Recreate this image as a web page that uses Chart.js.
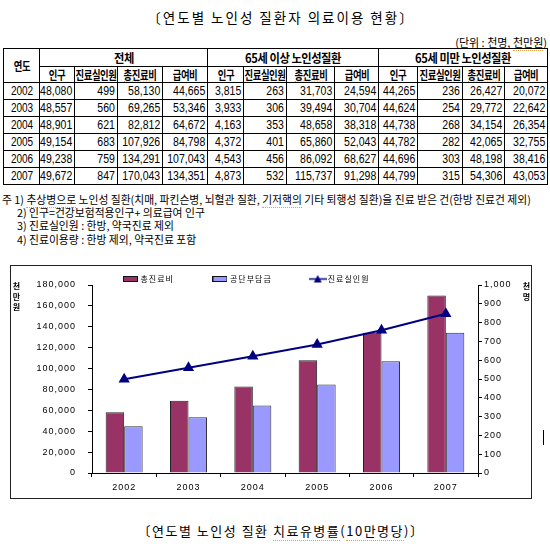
<!DOCTYPE html>
<html>
<head>
<meta charset="utf-8">
<script src="https://cdn.jsdelivr.net/npm/chart.js@4.4.0/dist/chart.umd.min.js"></script>
<style>
html,body{margin:0;padding:0;background:#fff}
body{width:550px;height:546px;position:relative;overflow:hidden;font-family:"Noto Sans CJK KR","Noto Sans",sans-serif;color:#000}
.abs{position:absolute;white-space:nowrap}
#title{left:0;width:562px;top:7px;text-align:center;font-size:13.5px;letter-spacing:2px;line-height:20px}
#unit{right:3px;top:34px;font-size:11px;line-height:16px}
#tbl{position:absolute;left:3px;top:48px;width:544px;border-collapse:collapse;table-layout:fixed}
#tbl td{border:1px solid #000;padding:0 1px;white-space:nowrap;overflow:hidden;position:relative}
#tbl tr.h1 td{height:17px}
#tbl tr.h2 td{height:15px}
#tbl tr.d td{height:16px}
#tbl td.hd span{position:absolute;left:50%;top:50%;transform:translate(-50%,-50%) scaleX(.78);font-weight:bold;font-size:12px;line-height:12px;letter-spacing:-0.5px}
#tbl td.grp span{transform:translate(-50%,-50%) scaleX(.9);font-size:12.5px}
#tbl td.yr span{position:absolute;left:50%;top:50%;transform:translate(-50%,-50%) scaleX(.8);font-family:"Liberation Sans",sans-serif;font-size:12.5px;line-height:13px}
#tbl td.n span{position:absolute;right:2px;top:50%;transform:translateY(-50%) scaleX(.84);transform-origin:right center;font-family:"Liberation Sans",sans-serif;font-size:12.5px;line-height:13px}
.sq{border-bottom:1px dotted #e8a040}
.note{left:0;font-size:10.8px;line-height:13px}
#box{position:absolute;left:10px;top:265px;width:520px;height:232px;border:1px solid #222}
#cv{position:absolute;left:0;top:0}
.vl{position:absolute;writing-mode:vertical-lr;text-orientation:upright;font-size:8px;font-weight:bold;letter-spacing:2.5px;line-height:9px}
#cap{left:0;width:562px;top:521px;text-align:center;font-size:13px;letter-spacing:1.5px;line-height:20px}
#cursor{position:absolute;left:543px;top:430px;width:1px;height:15px;background:#000}
</style>
</head>
<body>
<div id="title" class="abs">〔연도별 노인성 질환자 의료이용 현황〕</div>
<div id="unit" class="abs">(단위 : 천명, <span class="sq">천만원</span>)</div>
<table id="tbl">
<colgroup>
<col style="width:36px"><col style="width:35px"><col style="width:43px"><col style="width:45px"><col style="width:45px">
<col style="width:36px"><col style="width:43px"><col style="width:48px"><col style="width:44px">
<col style="width:39px"><col style="width:45px"><col style="width:42px"><col style="width:43px">
</colgroup>
<tbody id="tb"></tbody>
</table>
<div class="abs note" style="top:193px;left:2px">주 1) <span class="sq">추상병으로</span> 노인성 질환(치매, 파킨슨병, 뇌혈관 질환, <span class="sq">기저핵의</span> 기타 퇴행성 질환)을 진료 받은 건(한방 진료건 제외)</div>
<div class="abs note" style="top:206px;left:17px">2) 인구=건강보험적용인구+ 의료급여 인구</div>
<div class="abs note" style="top:219px;left:17px">3) 진료실인원 : 한방, 약국진료 제외</div>
<div class="abs note" style="top:233px;left:17px">4) 진료이용량 : 한방 제외, 약국진료 포함</div>

<div id="box">
<canvas id="cv" width="520" height="232"></canvas>
</div>
<div class="vl" style="left:12px;top:282px">천만원</div>
<div class="vl" style="left:522px;top:282px">천명</div>
<div id="cap" class="abs">〔연도별 노인성 질환 <span class="sq">치료유병률</span>(<span class="sq">10만명당</span>)〕</div>
<div id="cursor"></div>

<script>
// ---- data ----
const years = ['2002','2003','2004','2005','2006','2007'];
const groupHeaders = ['전체','65세 이상 노인성질환','65세 미만 노인성질환'];
const subHeaders = ['인구','진료실인원','총진료비','급여비'];
const totalPop = [48080,48557,48901,49154,49238,49672];
const totalPatients = [499,560,621,683,759,847];
const totalCost = [58130,69265,82812,107926,134291,170043];
const totalBenefit = [44665,53346,64672,84798,107043,134351];
const oldPop = [3815,3933,4163,4372,4543,4873];
const oldPatients = [263,306,353,401,456,532];
const oldCost = [31703,39494,48658,65860,86092,115737];
const oldBenefit = [24594,30704,38318,52043,68627,91298];
const youngPop = [44265,44624,44738,44782,44696,44799];
const youngPatients = [236,254,268,282,303,315];
const youngCost = [26427,29772,34154,42065,48198,54306];
const youngBenefit = [20072,22642,26354,32755,38416,43053];

const seriesLabels = ['총진료비','공단부담금','진료실인원'];
const leftTicks = [0,20000,40000,60000,80000,100000,120000,140000,160000,180000];
const rightTicks = [0,100,200,300,400,500,600,700,800,900,1000];

// ---- table ----
const fmt = v => v.toLocaleString('en-US');
const tb = document.getElementById('tb');
let h = '<tr class="h1"><td class="hd" rowspan="2"><span>연도</span></td>';
groupHeaders.forEach(g => { h += '<td class="hd grp" colspan="4"><span>' + g + '</span></td>'; });
h += '</tr><tr class="h2">';
groupHeaders.forEach(() => subHeaders.forEach(s => {
  h += '<td class="hd"><span' + (s === '총진료비' ? ' class="sq"' : '') + '>' + s + '</span></td>';
}));
h += '</tr>';
const cols = [totalPop,totalPatients,totalCost,totalBenefit,oldPop,oldPatients,oldCost,oldBenefit,youngPop,youngPatients,youngCost,youngBenefit];
years.forEach((y, i) => {
  h += '<tr class="d"><td class="yr"><span>' + y + '</span></td>';
  cols.forEach(c => { h += '<td class="n"><span>' + fmt(c[i]) + '</span></td>'; });
  h += '</tr>';
});
tb.innerHTML = h;

// ---- legend swatches ----
function barSwatch(fill){
  const c = document.createElement('canvas'); c.width = 15; c.height = 6;
  const g = c.getContext('2d');
  g.fillStyle = fill; g.fillRect(0,0,15,6);
  g.strokeStyle = '#111'; g.lineWidth = 1; g.strokeRect(0.5,0.5,14,5);
  return c;
}
function lineSwatch(color){
  const c = document.createElement('canvas'); c.width = 18; c.height = 9;
  const g = c.getContext('2d');
  g.strokeStyle = color; g.lineWidth = 1.5;
  g.beginPath(); g.moveTo(0,4.5); g.lineTo(18,4.5); g.stroke();
  g.fillStyle = color; g.beginPath(); g.moveTo(9,0.5); g.lineTo(13,8); g.lineTo(5,8); g.closePath(); g.fill();
  return c;
}
const colors = ['#993366','#9999FF','#000080'];
const swatches = [barSwatch(colors[0]), barSwatch(colors[1]), lineSwatch(colors[2])];

const tweak = {
  id: 'tweak',
  beforeUpdate(chart){ chart.ctx.letterSpacing = '1px'; },
  beforeDraw(chart){ chart.ctx.letterSpacing = '1px'; },
  afterLayout(chart){
    const L = chart.legend;
    if (!L) return;
    L.left = 73.5; L.right = 520;
    L.top = -31; L.bottom = 26;
  }
};

new Chart(document.getElementById('cv'), {
  data: {
    labels: years,
    datasets: [
      { type: 'bar', label: seriesLabels[0], data: totalCost, yAxisID: 'y', order: 1,
        backgroundColor: colors[0], borderColor: '#222', borderWidth: 1,
        categoryPercentage: 0.575, barPercentage: 1 },
      { type: 'bar', label: seriesLabels[1], data: totalBenefit, yAxisID: 'y', order: 1,
        backgroundColor: colors[1], borderColor: '#333', borderWidth: 1,
        categoryPercentage: 0.575, barPercentage: 1 },
      { type: 'line', label: seriesLabels[2], data: totalPatients, yAxisID: 'y1', order: 0,
        borderColor: colors[2], backgroundColor: colors[2], borderWidth: 2,
        pointStyle: 'triangle', pointRadius: 4.5, pointBackgroundColor: colors[2], pointBorderColor: colors[2],
        tension: 0, fill: false }
    ]
  },
  options: {
    responsive: false,
    animation: false,
    locale: 'en-US',
    layout: { padding: 0 },
    plugins: {
      tooltip: { enabled: false },
      legend: {
        display: true, position: 'top', align: 'start', maxHeight: 19,
        labels: {
          usePointStyle: true, pointStyleWidth: 12, padding: 40, color: '#000',
          font: { family: '"Noto Sans CJK KR", sans-serif', size: 8 },
          generateLabels(chart){
            return chart.data.datasets.map((ds, i) => ({
              text: ds.label, fillStyle: ds.backgroundColor, strokeStyle: ds.borderColor,
              lineWidth: 0, hidden: false, datasetIndex: i, pointStyle: swatches[i], fontColor: '#000'
            }));
          }
        }
      }
    },
    scales: {
      x: {
        type: 'category',
        grid: { display: true, drawOnChartArea: false, drawTicks: true, tickLength: 4, color: '#000', offset: true },
        border: { display: true, color: '#000', width: 1 },
        ticks: { color: '#000', padding: 5, maxRotation: 0, font: { family: '"Liberation Sans", sans-serif', size: 9 } },
        afterFit(s){ s.height = 25; }
      },
      y: {
        type: 'linear', position: 'left', min: 0, max: 180000,
        afterBuildTicks(s){ s.ticks = leftTicks.map(v => ({ value: v })); },
        grid: { display: true, drawOnChartArea: false, drawTicks: true, tickLength: 4, color: '#000' },
        border: { display: true, color: '#000', width: 1 },
        ticks: { color: '#000', padding: 12, font: { family: '"Liberation Sans", sans-serif', size: 9 },
          callback: v => v.toLocaleString('en-US') },
        afterFit(s){ s.width = 81; }
      },
      y1: {
        type: 'linear', position: 'right', min: 0, max: 1000,
        afterBuildTicks(s){ s.ticks = rightTicks.map(v => ({ value: v })); },
        grid: { display: true, drawOnChartArea: false, drawTicks: true, tickLength: 4, color: '#000' },
        border: { display: true, color: '#000', width: 1 },
        ticks: { color: '#000', padding: 2, font: { family: '"Liberation Sans", sans-serif', size: 9 },
          callback: v => v.toLocaleString('en-US') },
        afterFit(s){ s.width = 53; }
      }
    }
  },
  plugins: [tweak]
});
</script>
</body>
</html>
